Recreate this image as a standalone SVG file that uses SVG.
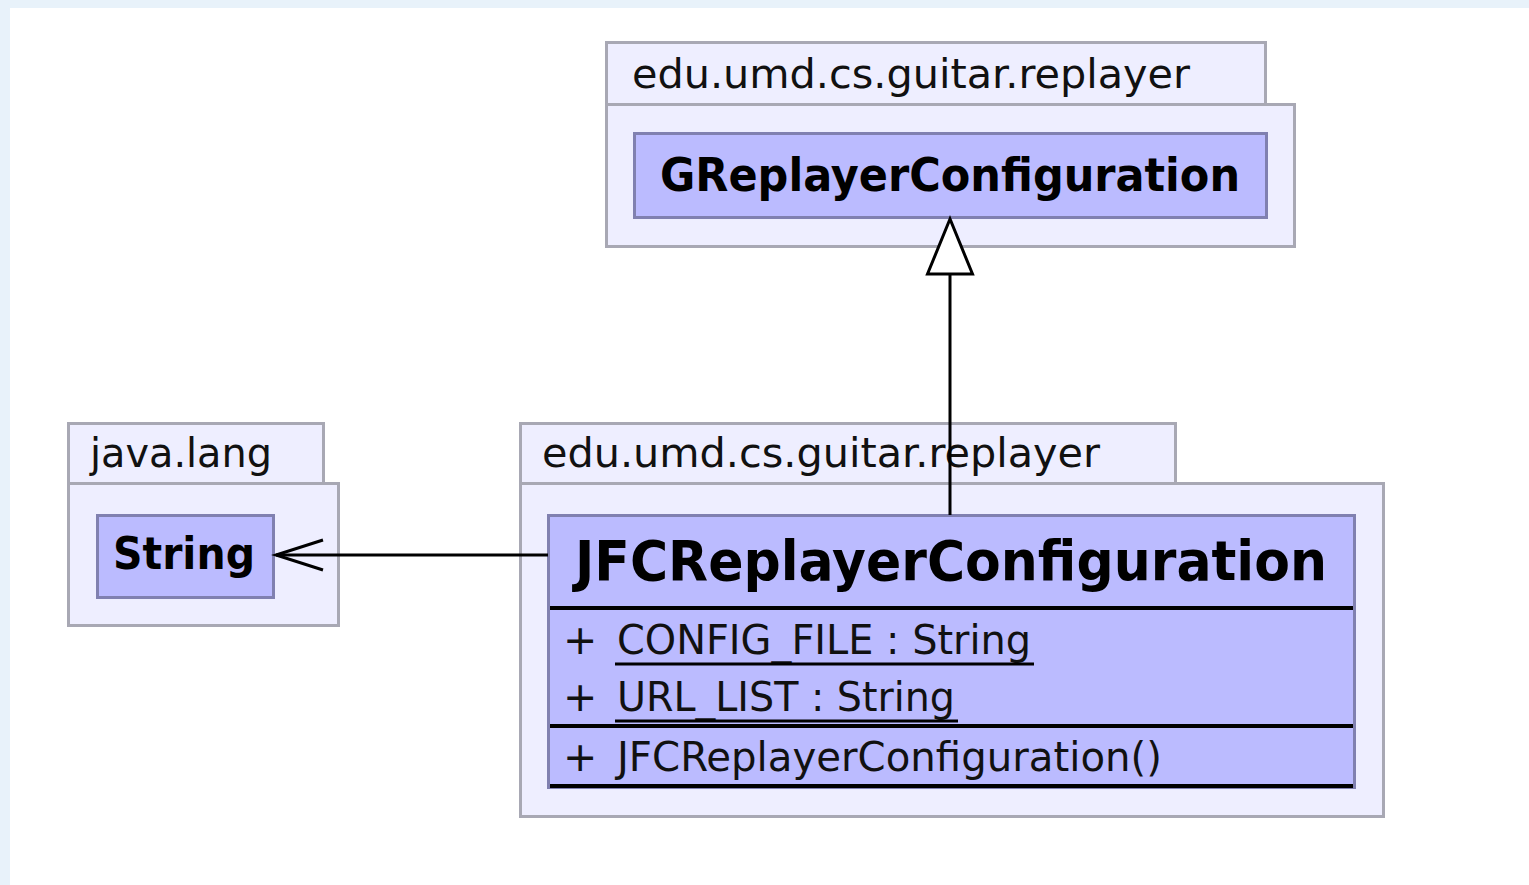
<svg xmlns="http://www.w3.org/2000/svg" width="1529" height="885" viewBox="0 0 1529 885">
<style>
.pkg{fill:#eeeeff;stroke:#a8a8b4;stroke-width:3}
.cls{fill:#bbbbff;stroke:#8080b0;stroke-width:3}
.pl{font-family:"DejaVu Sans",sans-serif;font-size:40px;fill:#111}
.cn{font-family:"DejaVu Sans",sans-serif;font-weight:bold;fill:#000}
.mem{font-family:"DejaVu Sans",sans-serif;font-size:41px;fill:#111}
.sep{stroke:#000;stroke-width:4}
.ul{stroke:#000;stroke-width:3}
.edge{stroke:#000;stroke-width:3;fill:none}
</style>
<rect x="0" y="0" width="1529" height="885" fill="#e8f2fa"/>
<rect x="10" y="8" width="1519" height="877" fill="#ffffff"/>

<g id="pkg-top">
<rect class="pkg" x="606.5" y="42.5" width="659" height="62"/>
<rect class="pkg" x="606.5" y="104.5" width="688" height="142"/>
<text class="pl" x="632" y="88" textLength="558" lengthAdjust="spacingAndGlyphs">edu.umd.cs.guitar.replayer</text>
</g>
<g id="GReplayerConfiguration">
<rect class="cls" x="634.5" y="133.5" width="632" height="84"/>
<text class="cn" x="660" y="191" font-size="46" textLength="580" lengthAdjust="spacingAndGlyphs">GReplayerConfiguration</text>
</g>

<g id="pkg-java-lang">
<rect class="pkg" x="68.5" y="423.5" width="255" height="60"/>
<rect class="pkg" x="68.5" y="483.5" width="270" height="142"/>
<text class="pl" x="90" y="467" textLength="182" lengthAdjust="spacingAndGlyphs">java.lang</text>
</g>
<g id="String">
<rect class="cls" x="97.5" y="515.5" width="176" height="82"/>
<text class="cn" x="113" y="569" font-size="45" textLength="142" lengthAdjust="spacingAndGlyphs">String</text>
</g>

<g id="pkg-bottom">
<rect class="pkg" x="520.5" y="423.5" width="655" height="60"/>
<rect class="pkg" x="520.5" y="483.5" width="863" height="333"/>
<text class="pl" x="542" y="467" textLength="558" lengthAdjust="spacingAndGlyphs">edu.umd.cs.guitar.replayer</text>
</g>
<g id="JFCReplayerConfiguration">
<rect class="cls" x="548.5" y="515.5" width="806" height="272"/>
<text class="cn" x="575" y="580" font-size="56" textLength="752" lengthAdjust="spacingAndGlyphs">JFCReplayerConfiguration</text>
<line class="sep" x1="550" y1="608" x2="1353" y2="608"/>
<text class="mem" x="563" y="654">+</text>
<text class="mem" x="617" y="654" textLength="414" lengthAdjust="spacingAndGlyphs">CONFIG_FILE : String</text>
<line class="ul" x1="615" y1="664" x2="1034" y2="664"/>
<text class="mem" x="563" y="711">+</text>
<text class="mem" x="617" y="711" textLength="338" lengthAdjust="spacingAndGlyphs">URL_LIST : String</text>
<line class="ul" x1="615" y1="721" x2="958" y2="721"/>
<line class="sep" x1="550" y1="726" x2="1353" y2="726"/>
<text class="mem" x="563" y="771">+</text>
<text class="mem" x="617" y="771" textLength="545" lengthAdjust="spacingAndGlyphs">JFCReplayerConfiguration()</text>
<line class="sep" x1="550" y1="786" x2="1353" y2="786"/>
</g>

<g id="connectors">
<line class="edge" x1="950" y1="274" x2="950" y2="515"/>
<polygon points="950,219 927.5,274 972.5,274" fill="#ffffff" stroke="#000" stroke-width="3" stroke-linejoin="miter"/>
<line class="edge" x1="548" y1="555" x2="276" y2="555"/>
<polyline class="edge" points="323,540 276,555 323,570"/>
</g>
</svg>
